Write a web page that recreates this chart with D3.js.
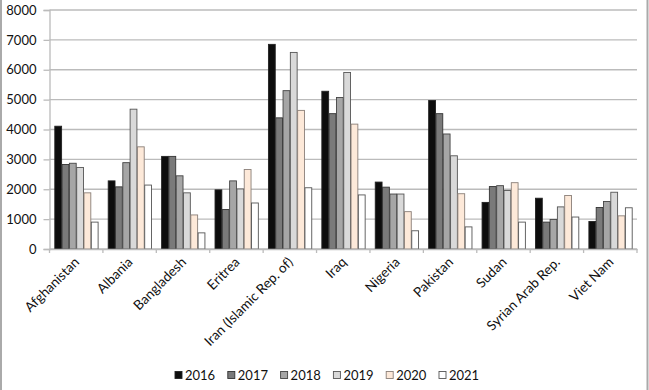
<!DOCTYPE html>
<html>
<head>
<meta charset="utf-8">
<script src="https://cdn.jsdelivr.net/npm/d3@7/dist/d3.min.js"></script>
<style>
html,body{margin:0;padding:0;background:#fff;}
svg{display:block;}
text{font-family:Lato,"Open Sans",sans-serif;fill:#111;}
</style>
</head>
<body>
<svg id="chart" width="649" height="390"></svg>
<script>
const categories = ["Afghanistan","Albania","Bangladesh","Eritrea","Iran (Islamic Rep. of)","Iraq","Nigeria","Pakistan","Sudan","Syrian Arab Rep.","Viet Nam"];
const years = ["2016","2017","2018","2019","2020","2021"];
const s2016 = [4110,2280,3100,1980,6850,5280,2240,4970,1560,1700,920];
const s2017 = [2830,2080,3100,1320,4390,4530,2070,4530,2090,900,1390];
const s2018 = [2870,2890,2450,2280,5300,5070,1840,3850,2120,990,1590];
const s2019 = [2730,4680,1880,2010,6580,5910,1840,3120,1960,1410,1900];
const s2020 = [1880,3420,1140,2660,4640,4180,1250,1850,2220,1790,1110];
const s2021 = [900,2140,540,1540,2050,1810,610,740,900,1070,1380];
const yTicks = [0,1000,2000,3000,4000,5000,6000,7000,8000];

const series = [s2016,s2017,s2018,s2019,s2020,s2021];
const colors = ["#0d0d0d","#7a7a7a","#a6a6a6","#d9d9d9","#fde9d9","#ffffff"];
const strokes = ["#222","#333","#444","#555","#8a7f78","#555"];

const svg = d3.select("#chart");
svg.append("line").attr("x1",1).attr("x2",1).attr("y1",0).attr("y2",390).attr("stroke","#aaa").attr("stroke-width",2);
svg.append("line").attr("x1",647.5).attr("x2",647.5).attr("y1",0).attr("y2",390).attr("stroke","#aaa").attr("stroke-width",2);

const mLeft = 49.5, mRight = 637, mTop = 10, mBottom = 249;
const x0 = d3.scaleBand().domain(categories).range([mLeft,mRight]).padding(0);
const x1 = d3.scaleBand().domain(years).range([4.8, x0.bandwidth()-4.8]).padding(0);
const y = d3.scaleLinear().domain([0,8000]).range([mBottom,mTop]);

svg.append("g").selectAll("line").data(yTicks).join("line")
  .attr("x1",mLeft).attr("x2",mRight)
  .attr("y1",d=>y(d)).attr("y2",d=>y(d))
  .attr("stroke","#bbb").attr("stroke-width",1.3);

const yAxis = d3.axisLeft(y).tickValues(yTicks).tickSize(6).tickPadding(7).tickFormat(d3.format("d"));
const gy = svg.append("g").attr("transform",`translate(${mLeft},0)`).call(yAxis);
gy.select(".domain").attr("stroke","#bbb").attr("stroke-width",1.3);
gy.selectAll(".tick line").attr("stroke","#bbb").attr("stroke-width",1.3);
gy.selectAll(".tick text").style("font-size","13px").style("font-family","Lato").attr("fill","#111");

const groups = svg.append("g").selectAll("g").data(categories).join("g")
  .attr("transform",d=>`translate(${x0(d)},0)`);
groups.selectAll("rect").data((c,i)=>years.map((yr,j)=>({yr,j,v:series[j][i]}))).join("rect")
  .attr("x",d=>x1(d.yr)+0.5)
  .attr("y",d=>y(d.v))
  .attr("width",x1.bandwidth()-0.5)
  .attr("height",d=>y(0)-y(d.v))
  .attr("fill",d=>colors[d.j])
  .attr("stroke",d=>strokes[d.j])
  .attr("stroke-width",0.9);

const xAxis = d3.axisBottom(x0).tickSize(0).tickPadding(0).tickFormat("");
const gx = svg.append("g").attr("transform",`translate(0,${mBottom})`).call(xAxis);
gx.select(".domain").attr("stroke","#bbb").attr("stroke-width",1.3);
const bounds = categories.map(c=>x0(c)).concat([mRight]);
gx.append("g").selectAll("line").data(bounds).join("line")
  .attr("x1",d=>d).attr("x2",d=>d).attr("y1",0).attr("y2",4)
  .attr("stroke","#bbb").attr("stroke-width",1.3);
svg.append("g").selectAll("text").data(categories).join("text")
  .attr("transform",d=>`translate(${x0(d)+x0.bandwidth()/2+4},${mBottom+14}) rotate(-45)`)
  .attr("text-anchor","end")
  .style("font-size","13.5px")
  .text(d=>d);

const legX = 175, legStep = 52.8, legY = 375;
const leg = svg.append("g").selectAll("g").data(years).join("g")
  .attr("transform",(d,i)=>`translate(${legX+i*legStep},${legY})`);
leg.append("rect").attr("x",0).attr("y",-3.5).attr("width",7).attr("height",7)
  .attr("fill",(d,i)=>colors[i]).attr("stroke",(d,i)=>strokes[i]).attr("stroke-width",0.9);
leg.append("text").attr("x",10).attr("y",4.8).style("font-size","13px").text(d=>d);
</script>
</body>
</html>
